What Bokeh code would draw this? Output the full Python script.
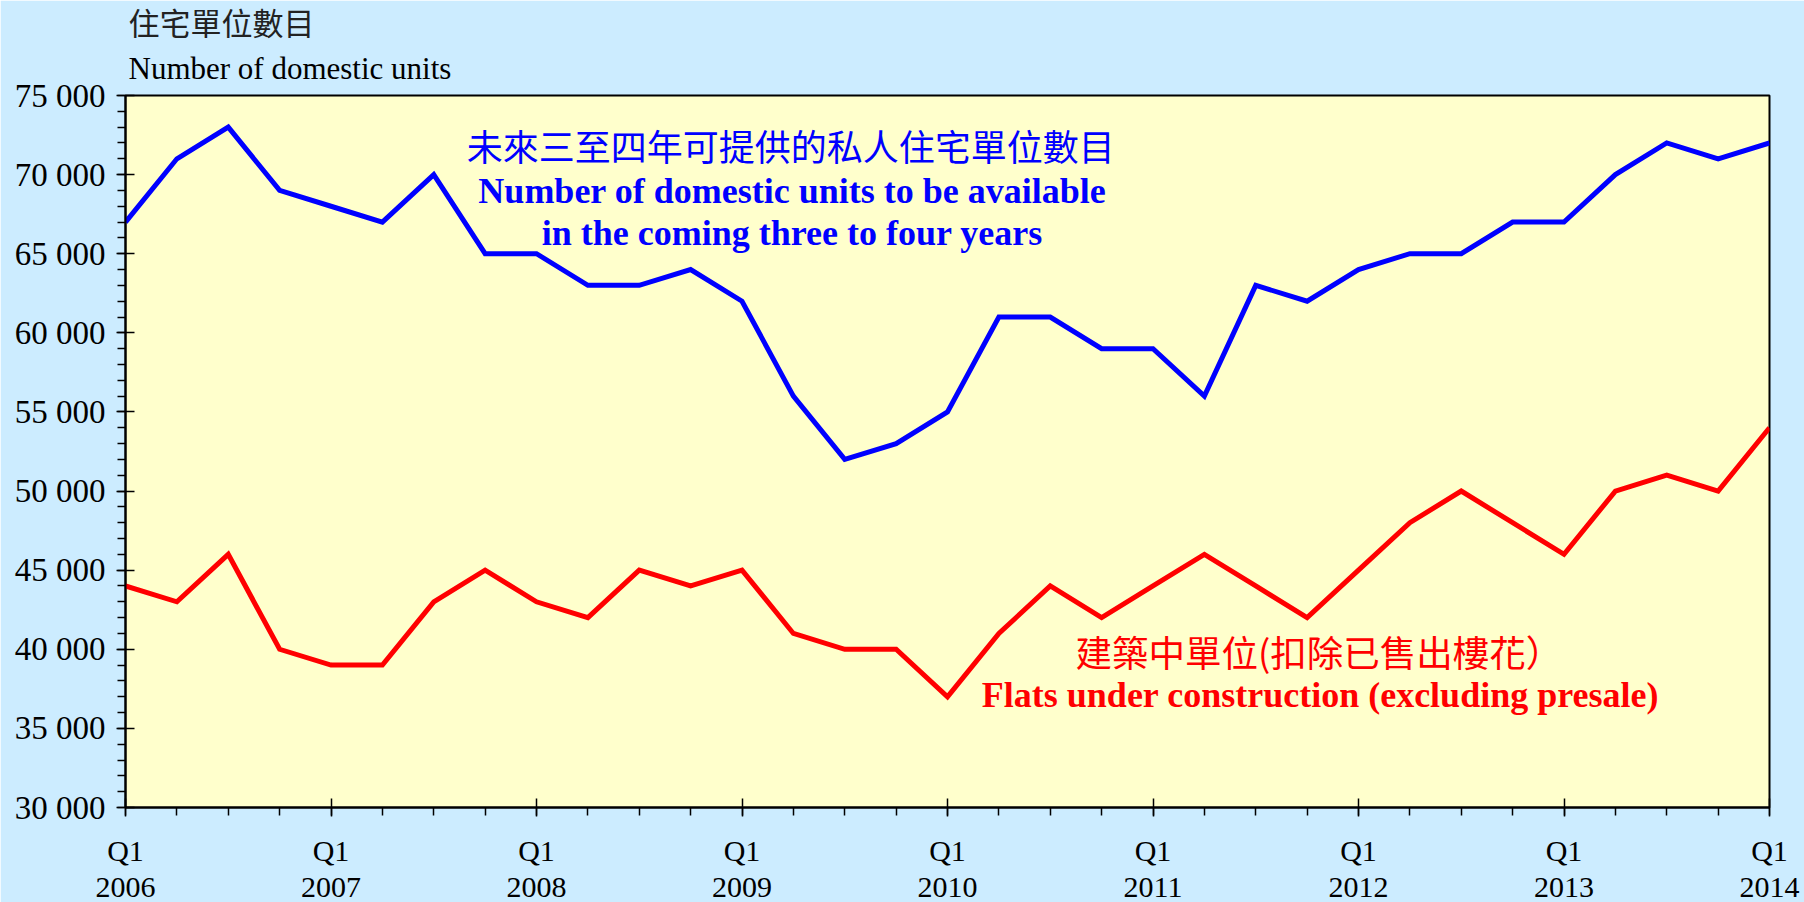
from bokeh.plotting import figure
from bokeh.models import Range1d, FixedTicker, Label, Title
from bokeh.embed import file_html
from bokeh.resources import INLINE

# ---- data ----
quarters = list(range(33))  # Q1 2006 .. Q1 2014
available = [67000, 71000, 73000, 69000,
             68000, 67000, 70000, 65000,
             65000, 63000, 63000, 64000,
             62000, 56000, 52000, 53000,
             55000, 61000, 61000, 59000,
             59000, 56000, 63000, 62000,
             64000, 65000, 65000, 67000,
             67000, 70000, 72000, 71000,
             72000]
under_construction = [44000, 43000, 46000, 40000,
                      39000, 39000, 43000, 45000,
                      43000, 42000, 45000, 44000,
                      45000, 41000, 40000, 40000,
                      37000, 41000, 44000, 42000,
                      44000, 46000, 44000, 42000,
                      45000, 48000, 50000, 48000,
                      46000, 50000, 51000, 50000,
                      54000]
years = ["2006", "2007", "2008", "2009", "2010", "2011", "2012", "2013", "2014"]
year_q1_index = [0, 4, 8, 12, 16, 20, 24, 28, 32]
y_ticks = [30000, 35000, 40000, 45000, 50000, 55000, 60000, 65000, 70000, 75000]
y_tick_labels = ["30 000", "35 000", "40 000", "45 000", "50 000",
                 "55 000", "60 000", "65 000", "70 000", "75 000"]

SERIF = "Liberation Serif"
CJK = "Noto Sans CJK TC"
CJK_TITLE = "Liberation Serif, Noto Sans CJK TC"
BG = "#CCECFF"

p = figure(frame_width=1644, frame_height=712, output_backend="svg", toolbar_location=None,
           x_range=Range1d(0, 32), y_range=Range1d(30000, 75000),
           min_border_left=125, min_border_right=35,
           min_border_top=95, min_border_bottom=95)
p.background_fill_color = "#FFFFCC"
p.border_fill_color = BG
p.outline_line_color = "black"
p.outline_line_width = 2
p.grid.visible = False

p.line(quarters, available, line_color="#0000FF", line_width=5, line_join="miter")
p.line(quarters, under_construction, line_color="#FF0000", line_width=5, line_join="miter")

# y axis
ya = p.yaxis[0]
ya.ticker = FixedTicker(ticks=y_ticks, minor_ticks=list(range(30000, 75001, 1000)))
ya.major_label_overrides = {t: l for t, l in zip(y_ticks, y_tick_labels)}
ya.major_label_text_font = SERIF
ya.major_label_text_font_size = "33px"
ya.major_label_text_color = "black"
ya.major_label_standoff = 11
ya.major_tick_in = 9
ya.major_tick_out = 9
ya.minor_tick_in = 0
ya.minor_tick_out = 8
ya.axis_line_width = 2
ya.major_tick_line_width = 1.5
ya.minor_tick_line_width = 1.5

# x axis
xa = p.xaxis[0]
xa.ticker = FixedTicker(ticks=year_q1_index, minor_ticks=quarters)
xa.major_label_overrides = {q: "Q1\n" + yr for q, yr in zip(year_q1_index, years)}
xa.major_label_text_font = SERIF
xa.major_label_text_font_size = "30px"
xa.major_label_text_color = "black"
xa.major_label_text_line_height = 1.12
xa.major_label_standoff = 17
xa.major_tick_in = 9
xa.major_tick_out = 9
xa.minor_tick_in = 0
xa.minor_tick_out = 8
xa.axis_line_width = 2
xa.major_tick_line_width = 1.5
xa.minor_tick_line_width = 1.5

# axis title (two lines above the plot)
p.add_layout(Title(text="Number of domestic units", align="left", offset=3,
                   text_font=SERIF, text_font_size="31px", text_font_style="normal",
                   text_line_height=1.0,
                   text_color="black", standoff=19), "above")
p.add_layout(Title(text="住宅單位數目", align="left", offset=3,
                   text_font=CJK_TITLE, text_font_size="31px", text_font_style="normal",
                   text_line_height=1.0,
                   text_color="#222222", standoff=-5), "above")

# series annotations
p.add_layout(Label(x=12.95, y=71880, text="未來三至四年可提供的私人住宅單位數目",
                   text_align="center", text_baseline="middle", text_font=CJK,
                   text_font_size="36px", text_color="#0000FF"))
p.add_layout(Label(x=12.98, y=68970, text="Number of domestic units to be available",
                   text_align="center", text_baseline="alphabetic", text_font=SERIF,
                   text_font_style="bold", text_font_size="36px", text_color="#0000FF"))
p.add_layout(Label(x=12.98, y=66290, text="in the coming three to four years",
                   text_align="center", text_baseline="alphabetic", text_font=SERIF,
                   text_font_style="bold", text_font_size="36px", text_color="#0000FF"))

p.add_layout(Label(x=23.23, y=39860, text="建築中單位(扣除已售出樓花）",
                   text_align="center", text_baseline="middle", text_font=CJK,
                   text_font_size="36.5px", text_color="#FF0000"))
p.add_layout(Label(x=23.26, y=37130, text="Flats under construction (excluding presale)",
                   text_align="center", text_baseline="alphabetic", text_font=SERIF,
                   text_font_style="bold", text_font_size="36px", text_color="#FF0000"))

html = file_html(p, INLINE)
html = html.replace("<body>", '<body style="background-color:%s; overflow:hidden;">' % BG, 1)
open("out.html", "w").write(html)
